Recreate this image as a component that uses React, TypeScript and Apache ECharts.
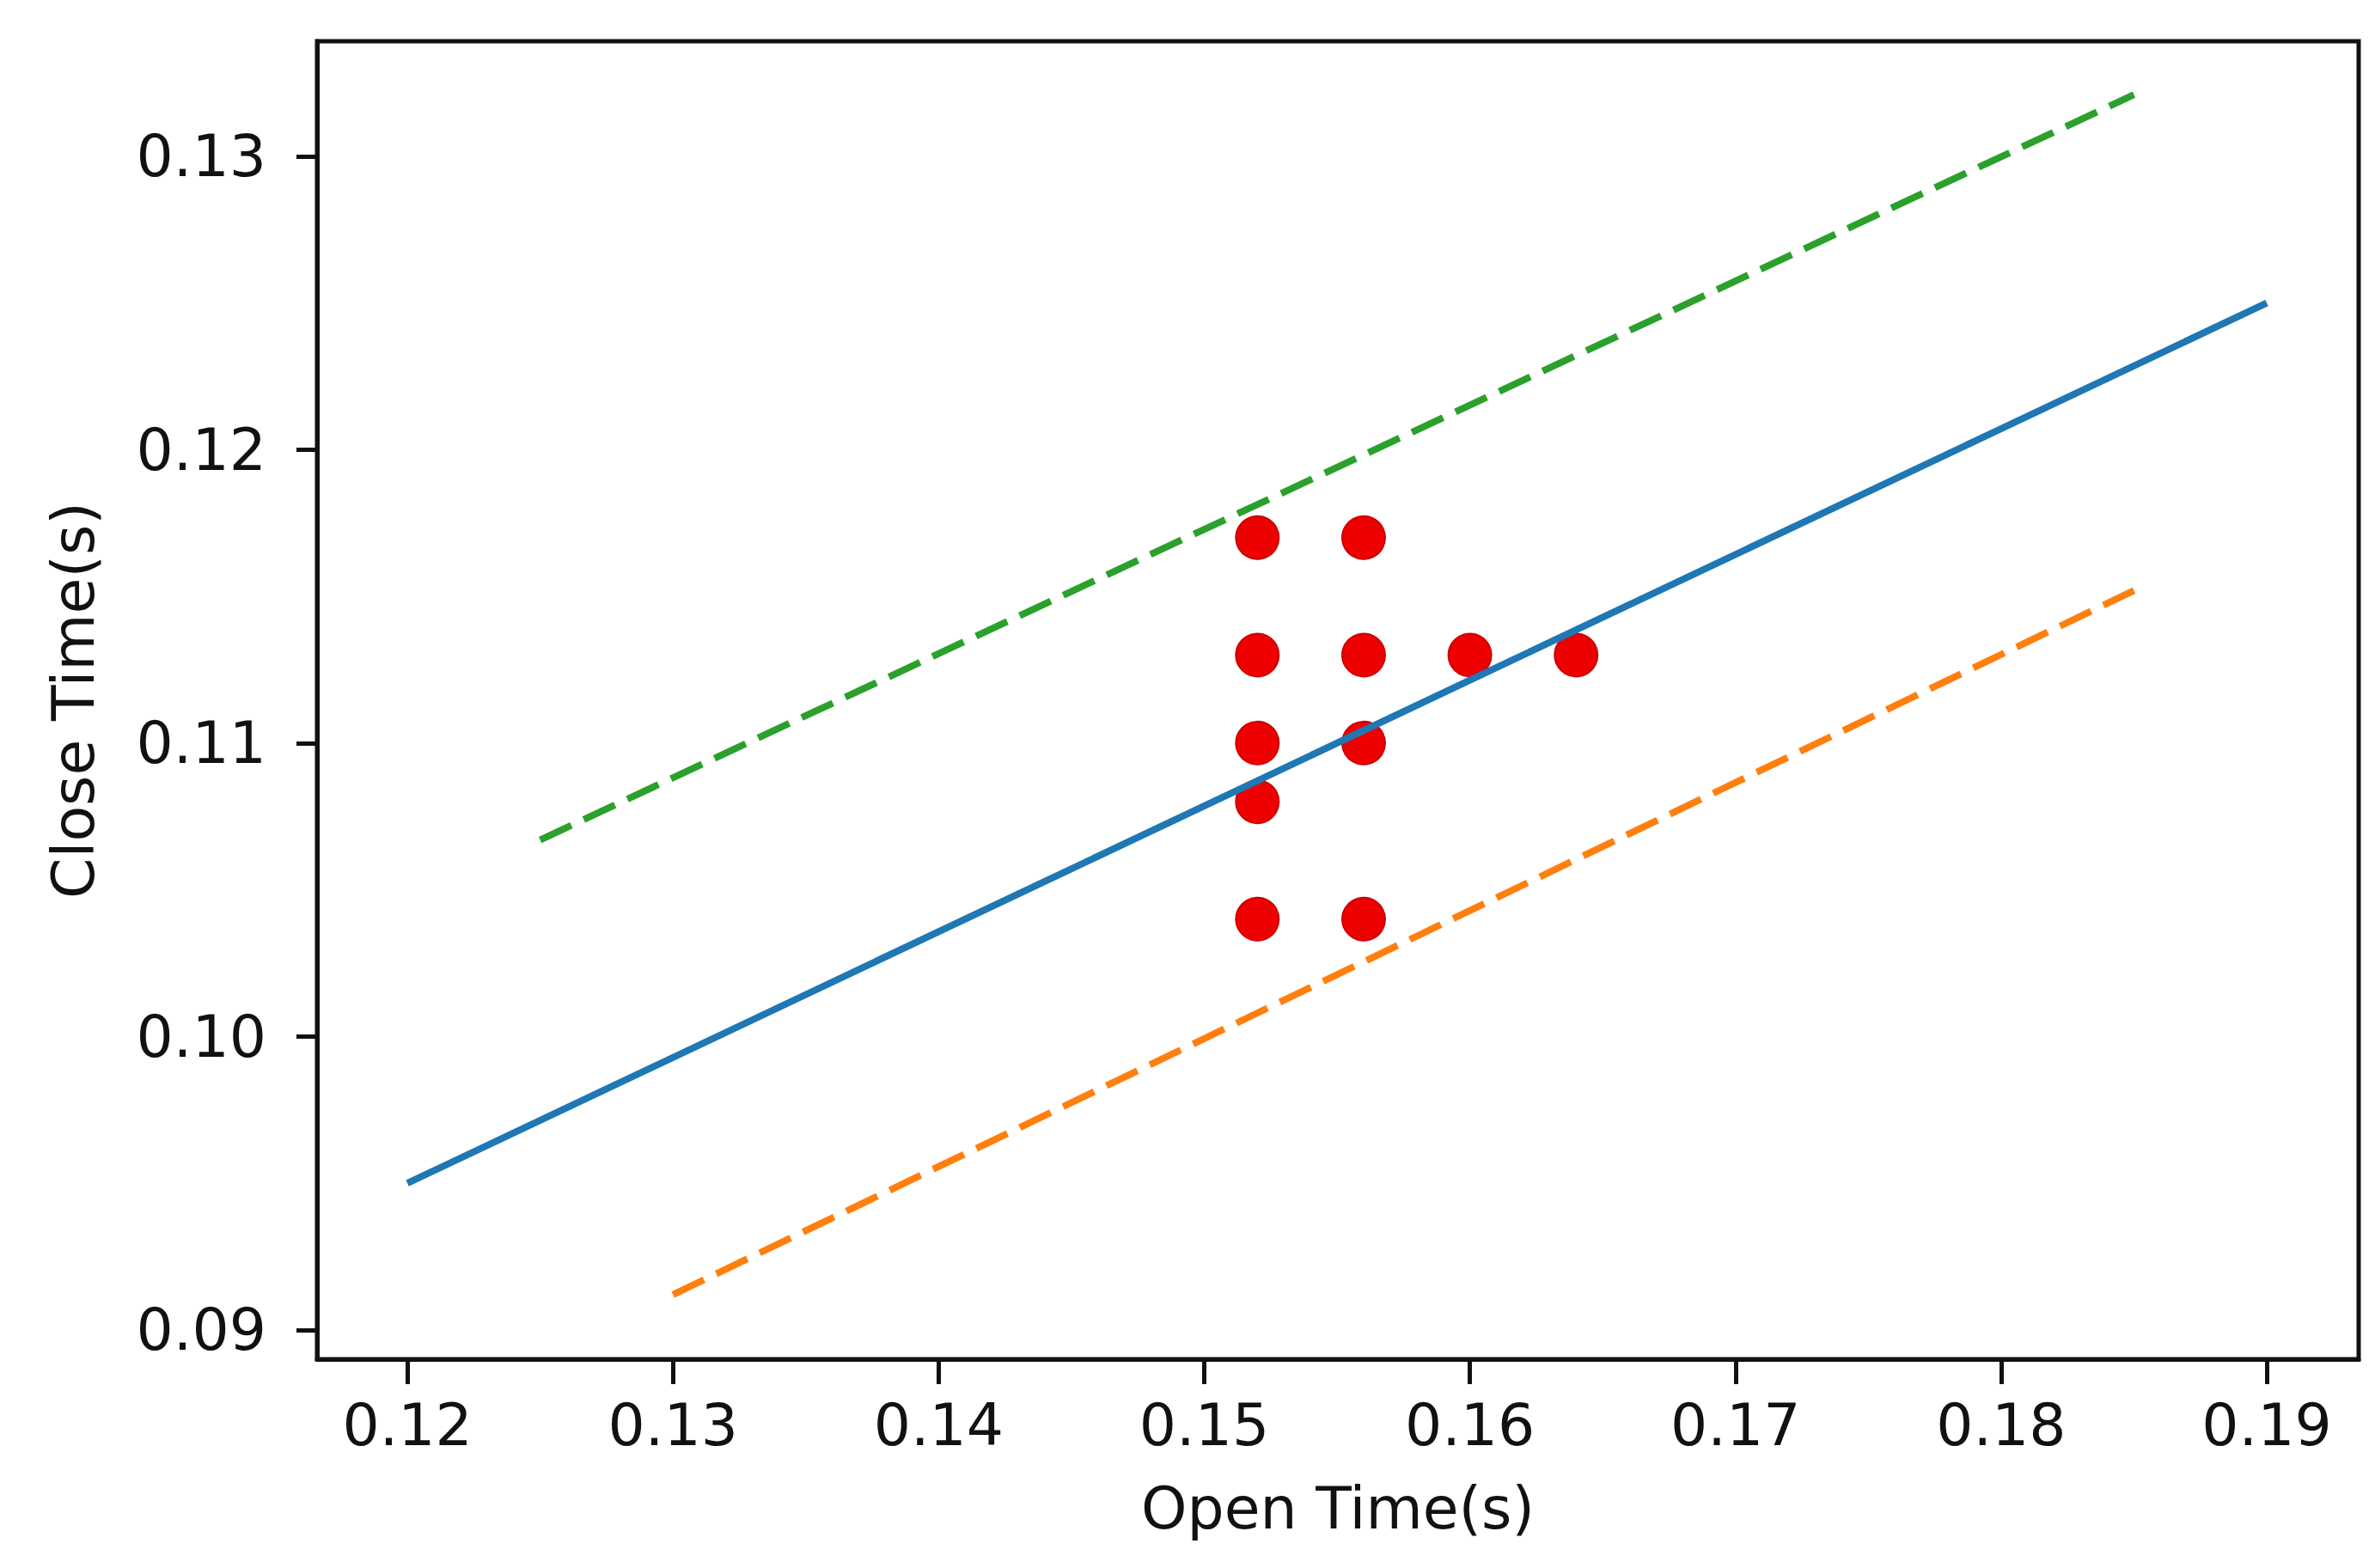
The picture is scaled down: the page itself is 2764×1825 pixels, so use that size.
import React, { useEffect, useRef } from "react";
import * as echarts from "echarts";

const xTicks = [0.12, 0.13, 0.14, 0.15, 0.16, 0.17, 0.18, 0.19];
const yTicks = [0.09, 0.1, 0.11, 0.12, 0.13];

const fitLine: [number, number][] = [
  [0.12, 0.095],
  [0.19, 0.125],
];
const upperBound: [number, number][] = [
  [0.125, 0.1067],
  [0.185, 0.1321],
];
const lowerBound: [number, number][] = [
  [0.13, 0.0912],
  [0.185, 0.1152],
];

const openTimes = [0.152, 0.156, 0.152, 0.156, 0.16, 0.164, 0.152, 0.156, 0.152, 0.152, 0.156];
const closeTimes = [0.117, 0.117, 0.113, 0.113, 0.113, 0.113, 0.11, 0.11, 0.108, 0.104, 0.104];

const FONT = "DejaVu Sans";

export default function App() {
  const ref = useRef<HTMLDivElement>(null);

  useEffect(() => {
    if (!ref.current) return;
    const chart = echarts.init(ref.current, undefined, { renderer: "svg" });
    const points = openTimes.map((x, i) => [x, closeTimes[i]]);
    chart.setOption({
      animation: false,
      backgroundColor: "#ffffff",
      grid: {
        left: 369,
        right: 19,
        top: 48,
        bottom: 243,
        show: true,
        borderColor: "#111111",
        borderWidth: 5,
        backgroundColor: "transparent",
      },
      xAxis: {
        type: "value",
        min: 0.1166,
        max: 0.19346,
        name: "Open Time(s)",
        nameLocation: "middle",
        nameGap: 139,
        nameTextStyle: { fontFamily: FONT, fontSize: 68, color: "#111111" },
        axisLine: { show: true, onZero: false, lineStyle: { color: "#111111", width: 5 } },
        axisTick: {
          show: true,
          length: 29,
          customValues: xTicks,
          lineStyle: { color: "#111111", width: 5 },
        },
        axisLabel: {
          customValues: xTicks,
          margin: 42,
          fontFamily: FONT,
          fontSize: 68,
          color: "#111111",
          formatter: (v: number) => v.toFixed(2),
        },
        splitLine: { show: false },
      },
      yAxis: {
        type: "value",
        min: 0.089,
        max: 0.13392,
        name: "Close Time(s)",
        nameLocation: "middle",
        nameGap: 250,
        nameTextStyle: { fontFamily: FONT, fontSize: 68, color: "#111111" },
        axisLine: { show: true, onZero: false, lineStyle: { color: "#111111", width: 5 } },
        axisTick: {
          show: true,
          length: 24,
          customValues: yTicks,
          lineStyle: { color: "#111111", width: 5 },
        },
        axisLabel: {
          customValues: yTicks,
          margin: 59,
          fontFamily: FONT,
          fontSize: 68,
          color: "#111111",
          formatter: (v: number) => v.toFixed(2),
        },
        splitLine: { show: false },
      },
      series: [
        {
          type: "scatter",
          data: points,
          symbol: "circle",
          symbolSize: 50,
          itemStyle: { color: "#ee0000", opacity: 1, borderColor: "#cc0000", borderWidth: 2 },
          z: 2,
        },
        {
          type: "line",
          data: fitLine,
          showSymbol: false,
          lineStyle: { color: "#1f77b4", width: 8 },
          z: 3,
        },
        {
          type: "line",
          data: upperBound,
          showSymbol: false,
          lineStyle: { color: "#2ca02c", width: 8, type: [40, 16] },
          z: 3,
        },
        {
          type: "line",
          data: lowerBound,
          showSymbol: false,
          lineStyle: { color: "#ff7f0e", width: 8, type: [40, 16] },
          z: 3,
        },
      ],
    });
    return () => chart.dispose();
  }, []);

  return (
    <div
      ref={ref}
      style={{ position: "absolute", left: 0, top: 0, width: 2764, height: 1825 }}
    />
  );
}
